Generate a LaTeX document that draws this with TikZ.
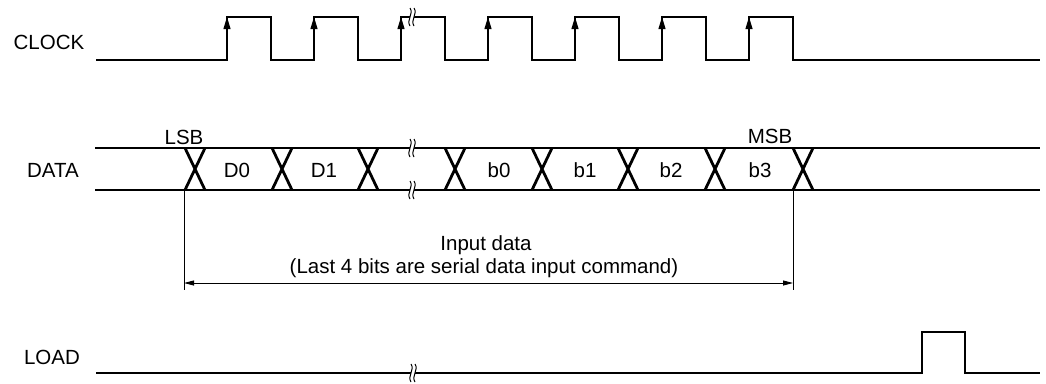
\documentclass[tikz,border=0pt]{standalone}
\usepackage{fontspec}
\setmainfont{Liberation Sans}
\usetikzlibrary{arrows.meta}

\tikzset{
  wave/.style={line width=2.8pt, line join=miter},
  dim/.style={line width=0.9pt},
  lbl/.style={font=\fontsize{20.5}{23}\selectfont, inner sep=0pt, anchor=base},
  brk/.pic={
    \fill[white] (-2,-9) .. controls (2,-3) and (-6,3) .. (-2,9) -- (2,9) .. controls (-2,3) and (6,-3) .. (2,-9) -- cycle;
    \draw[line width=1pt] (-2,-9) .. controls (2,-3) and (-6,3) .. (-2,9);
    \draw[line width=1pt] (2,-9) .. controls (6,-3) and (-2,3) .. (2,9);
  }
}

\begin{document}
\begin{tikzpicture}[x=1pt, y=-1pt]
  \useasboundingbox (0,0) rectangle (1046,383);

  % signal names
  \node[lbl] (clk) at (49,49) {CLOCK};
  \node[lbl] (dat) at (53,177) {DATA};
  \node[lbl] (ld) at (52,364) {LOAD};

  % clock
  \draw[wave] (96,60) foreach \r in {227,314,401,488,575,662,749} { -- (\r,60) -- (\r,17) -- (\r+44,17) -- (\r+44,60) } -- (1040,60);
  \foreach \r in {227,314,401,488,575,662,749}
    \draw[line width=1pt, -{Triangle[length=12pt,width=7pt]}] (\r,40) -- (\r,17);
  \pic at (412,17) {brk};

  % data bus
  \draw[wave] (95,148) -- (1040,148);
  \draw[wave] (95,190) -- (1040,190);
  \foreach \c in {195,282,368,455,542,628,715,803}
    \draw[wave] (\c-10,148) -- (\c+10,190) (\c-10,190) -- (\c+10,148);
  \pic at (412,148) {brk};
  \pic at (412,190) {brk};
  \foreach \t/\x in {D0/237,D1/324,b0/499,b1/585,b2/671,b3/760}
    \node[lbl] at (\x,177) {\t};
  \node[lbl] (lsb) at (184,144) {LSB};
  \node[lbl] (msb) at (770,143) {MSB};

  % input data span
  \coordinate (lsbmark) at (184,283);
  \coordinate (msbmark) at (793,283);
  \draw[dim] (184,190) -- (184,290);
  \draw[dim] (793,190) -- (793,290);
  \draw[dim, {Triangle[length=10pt,width=5pt]}-{Triangle[length=10pt,width=5pt]}] (lsbmark) -- (msbmark);
  \node[lbl] (info) at (486,250) {Input data};
  \node[lbl] (infocmd) at (484,273) {(Last 4 bits are serial data input command)};

  % load
  \draw[wave] (96,373) -- (922,373) -- (922,332) -- (965,332) -- (965,373) -- (1040,373);
  \pic at (413,373) {brk};
\end{tikzpicture}
\end{document}
